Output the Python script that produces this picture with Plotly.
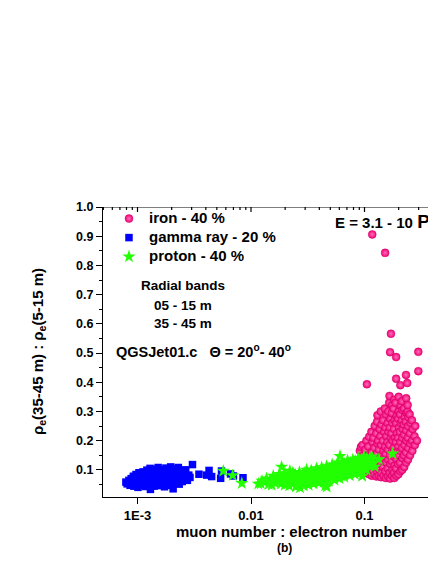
import plotly.graph_objects as go

FONT = "Liberation Sans, Arial, sans-serif"

# ---------------- data ----------------
series_names = ["iron - 40 %", "gamma ray - 20 %", "proton - 40 %"]

iron_x = [
    0.092, 0.094, 0.091, 0.093,
    0.098, 0.097, 0.099, 0.096,
    0.104, 0.103, 0.105, 0.102, 0.104,
    0.110, 0.109, 0.111, 0.108, 0.110,
    0.116, 0.117, 0.115, 0.116, 0.118, 0.115,
    0.122, 0.121, 0.123, 0.122, 0.120, 0.123,
    0.128, 0.129, 0.127, 0.128, 0.130, 0.127, 0.129,
    0.134, 0.133, 0.135, 0.134, 0.132, 0.136, 0.130,
    0.140, 0.141, 0.139, 0.142, 0.140, 0.138, 0.141, 0.139,
    0.147, 0.146, 0.148, 0.147, 0.145, 0.149, 0.146,
    0.154, 0.153, 0.155, 0.154, 0.152, 0.156, 0.153, 0.155, 0.151,
    0.161, 0.160, 0.162, 0.161, 0.159, 0.163, 0.160, 0.162,
    0.168, 0.167, 0.169, 0.168, 0.166, 0.170, 0.167, 0.169, 0.165, 0.166,
    0.175, 0.176, 0.174, 0.175, 0.177, 0.173, 0.176, 0.174, 0.175,
    0.183, 0.182, 0.184, 0.183, 0.181, 0.185, 0.182, 0.184, 0.180, 0.183,
    0.191, 0.190, 0.192, 0.191, 0.189, 0.193, 0.190, 0.192, 0.188,
    0.199, 0.198, 0.200, 0.199, 0.197, 0.201, 0.198, 0.200, 0.200,
    0.207, 0.206, 0.208, 0.207, 0.205, 0.209, 0.206, 0.208,
    0.215, 0.216, 0.214, 0.215, 0.217, 0.213, 0.216, 0.214,
    0.224, 0.223, 0.225, 0.224, 0.222, 0.226, 0.223,
    0.233, 0.232, 0.234, 0.233, 0.231, 0.235, 0.233,
    0.242, 0.243, 0.241, 0.242, 0.244, 0.240, 0.240,
    0.252, 0.253, 0.251, 0.254, 0.250,
    0.264, 0.263, 0.266, 0.262,
    0.278, 0.276, 0.280,
    0.290,
    0.117, 0.152, 0.171, 0.168, 0.190, 0.298, 0.298, 0.232, 0.190, 0.207, 0.238, 0.105,
]
iron_y = [
    0.110, 0.135, 0.165, 0.178,
    0.096, 0.120, 0.150, 0.185,
    0.090, 0.105, 0.140, 0.170, 0.200,
    0.085, 0.115, 0.145, 0.180, 0.213,
    0.080, 0.100, 0.130, 0.160, 0.195, 0.230,
    0.085, 0.110, 0.140, 0.175, 0.210, 0.250,
    0.077, 0.096, 0.125, 0.155, 0.190, 0.225, 0.265,
    0.080, 0.105, 0.135, 0.170, 0.200, 0.240, 0.287,
    0.075, 0.090, 0.120, 0.150, 0.185, 0.215, 0.255, 0.300,
    0.080, 0.110, 0.140, 0.165, 0.200, 0.230, 0.270,
    0.072, 0.095, 0.125, 0.155, 0.180, 0.215, 0.245, 0.290, 0.310,
    0.078, 0.105, 0.135, 0.170, 0.195, 0.230, 0.260, 0.300,
    0.070, 0.090, 0.120, 0.150, 0.185, 0.210, 0.245, 0.275, 0.330, 0.353,
    0.080, 0.100, 0.130, 0.165, 0.200, 0.225, 0.260, 0.295, 0.321,
    0.072, 0.090, 0.115, 0.145, 0.175, 0.210, 0.240, 0.270, 0.310, 0.340,
    0.080, 0.105, 0.135, 0.160, 0.195, 0.225, 0.260, 0.285, 0.330,
    0.085, 0.120, 0.150, 0.180, 0.210, 0.245, 0.275, 0.300, 0.350,
    0.095, 0.125, 0.165, 0.195, 0.230, 0.260, 0.290, 0.320,
    0.100, 0.140, 0.175, 0.210, 0.240, 0.270, 0.305, 0.335,
    0.110, 0.150, 0.185, 0.220, 0.255, 0.280, 0.310,
    0.125, 0.160, 0.200, 0.235, 0.265, 0.295, 0.345,
    0.135, 0.175, 0.210, 0.250, 0.280, 0.300, 0.322,
    0.150, 0.190, 0.225, 0.260, 0.290,
    0.165, 0.200, 0.240, 0.270,
    0.185, 0.215, 0.250,
    0.200,
    0.906, 0.843, 0.566, 0.503, 0.486, 0.504, 0.438, 0.425, 0.412, 0.390, 0.397, 0.393,
]

gamma_x = [
    0.00079, 0.00081, 0.00084, 0.00086, 0.00088, 0.00090, 0.00092, 0.00093, 0.00095, 0.00097,
    0.00099, 0.00100, 0.00101, 0.00103, 0.00105, 0.00107, 0.00108, 0.00110, 0.00112, 0.00114,
    0.00116, 0.00118, 0.00119, 0.00121, 0.00123, 0.00125, 0.00127, 0.00129, 0.00130, 0.00132,
    0.00134, 0.00136, 0.00138, 0.00140, 0.00142, 0.00144, 0.00146, 0.00148, 0.00150, 0.00152,
    0.00155, 0.00157, 0.00160, 0.00162, 0.00165, 0.00168, 0.00170, 0.00173, 0.00176, 0.00178,
    0.00181, 0.00184, 0.00187, 0.00190, 0.00193, 0.00196, 0.00199, 0.00202, 0.00206, 0.00209,
    0.00213, 0.00217, 0.00221, 0.00225, 0.00229, 0.00233, 0.00238, 0.00243, 0.00248, 0.00254,
    0.00260, 0.00266, 0.00275, 0.00283, 0.00290,
    0.00105, 0.00115, 0.00135, 0.00145, 0.00155, 0.00165, 0.00175, 0.00185, 0.00195, 0.00205,
    0.00215, 0.00225, 0.00235, 0.00245, 0.00088, 0.00125, 0.00150, 0.00170, 0.00190, 0.00210,
    0.00305, 0.00348, 0.00407, 0.00427, 0.00450, 0.00540, 0.00550, 0.00660, 0.00700, 0.00850,
]
gamma_y = [
    0.058, 0.052, 0.064, 0.047, 0.070, 0.056, 0.078, 0.044, 0.062, 0.084,
    0.051, 0.072, 0.040, 0.090, 0.061, 0.079, 0.047, 0.068, 0.093, 0.055,
    0.084, 0.043, 0.074, 0.099, 0.062, 0.088, 0.050, 0.105, 0.033, 0.070,
    0.095, 0.057, 0.081, 0.044, 0.102, 0.066, 0.088, 0.052, 0.076, 0.108,
    0.060, 0.092, 0.046, 0.072, 0.100, 0.056, 0.084, 0.042, 0.068, 0.106,
    0.090, 0.052, 0.075, 0.098, 0.062, 0.110, 0.047, 0.083, 0.035, 0.070,
    0.104, 0.056, 0.091, 0.066, 0.108, 0.051, 0.080, 0.097, 0.060, 0.086,
    0.072, 0.100, 0.064, 0.082, 0.074,
    0.075, 0.065, 0.075, 0.060, 0.085, 0.065, 0.095, 0.065, 0.078, 0.095,
    0.075, 0.085, 0.095, 0.072, 0.062, 0.072, 0.095, 0.070, 0.088, 0.062,
    0.118, 0.085, 0.082, 0.098, 0.077, 0.071, 0.096, 0.086, 0.079, 0.073,
]

proton_x = [
    0.0057, 0.0069, 0.0083, 0.0116, 0.0122, 0.0125, 0.0133, 0.0137, 0.0143, 0.0147,
    0.0152, 0.0157, 0.0163, 0.0167, 0.0172, 0.0176, 0.0179, 0.0186, 0.0184, 0.0189,
    0.0193, 0.0198, 0.0202, 0.0199, 0.0208, 0.0212, 0.0220, 0.0217, 0.0224, 0.0232,
    0.0237, 0.0234, 0.0248, 0.0253, 0.0246, 0.0262, 0.0267, 0.0264, 0.0270, 0.0277,
    0.0283, 0.0292, 0.0297, 0.0294, 0.0307, 0.0313, 0.0309, 0.0322, 0.0328, 0.0324,
    0.0336, 0.0343, 0.0339, 0.0356, 0.0362, 0.0358, 0.0376, 0.0383, 0.0379, 0.0396,
    0.0403, 0.0399, 0.0416, 0.0423, 0.0419, 0.0436, 0.0443, 0.0439, 0.0450, 0.0465,
    0.0460, 0.0468, 0.0463, 0.0485, 0.0493, 0.0489, 0.0515, 0.0524, 0.0519, 0.0545,
    0.0554, 0.0549, 0.0575, 0.0584, 0.0579, 0.0608, 0.0603, 0.0611, 0.0634, 0.0645,
    0.0639, 0.0664, 0.0675, 0.0669, 0.0704, 0.0716, 0.0709, 0.0744, 0.0756, 0.0749,
    0.0784, 0.0796, 0.0789, 0.0824, 0.0836, 0.0829, 0.0873, 0.0887, 0.0879, 0.0928,
    0.0942, 0.0935, 0.0955, 0.0983, 0.0997, 0.0990, 0.1042, 0.1058, 0.1050, 0.1093,
    0.1107, 0.1143, 0.1157, 0.1230, 0.1340, 0.1770,
    0.0210, 0.0240, 0.0270, 0.0300, 0.0330, 0.0350, 0.0370, 0.0390, 0.0410, 0.0430,
    0.0470, 0.0500, 0.0530, 0.0560, 0.0590, 0.0620, 0.0650, 0.0690, 0.0730, 0.0770,
    0.0810, 0.0860, 0.0900, 0.0960, 0.1020, 0.1080, 0.1120, 0.1180, 0.0320, 0.0380,
]
proton_y = [
    0.096, 0.081, 0.054, 0.052, 0.053, 0.062, 0.058, 0.070, 0.050, 0.065,
    0.048, 0.079, 0.055, 0.068, 0.060, 0.075, 0.085, 0.110, 0.052, 0.065,
    0.080, 0.048, 0.070, 0.088, 0.058, 0.078, 0.096, 0.045, 0.066, 0.052,
    0.075, 0.090, 0.042, 0.060, 0.082, 0.070, 0.092, 0.050, 0.039, 0.058,
    0.080, 0.045, 0.068, 0.090, 0.055, 0.078, 0.100, 0.048, 0.065, 0.088,
    0.060, 0.080, 0.098, 0.052, 0.072, 0.090, 0.065, 0.085, 0.105, 0.055,
    0.075, 0.095, 0.068, 0.088, 0.108, 0.058, 0.080, 0.100, 0.045, 0.042,
    0.070, 0.092, 0.112, 0.062, 0.085, 0.105, 0.075, 0.095, 0.118, 0.065,
    0.088, 0.110, 0.080, 0.100, 0.125, 0.147, 0.070, 0.092, 0.085, 0.108,
    0.128, 0.075, 0.098, 0.120, 0.090, 0.112, 0.132, 0.080, 0.102, 0.125,
    0.095, 0.118, 0.135, 0.085, 0.108, 0.130, 0.100, 0.122, 0.140, 0.090,
    0.115, 0.135, 0.079, 0.105, 0.128, 0.145, 0.100, 0.120, 0.140, 0.115,
    0.135, 0.125, 0.145, 0.110, 0.136, 0.155,
    0.068, 0.072, 0.075, 0.070, 0.082, 0.062, 0.095, 0.078, 0.085, 0.098,
    0.080, 0.095, 0.088, 0.100, 0.112, 0.080, 0.118, 0.105, 0.122, 0.110,
    0.125, 0.118, 0.130, 0.125, 0.132, 0.128, 0.140, 0.138, 0.058, 0.075,
]

x_tick_vals = [0.001, 0.01, 0.1]
x_tick_text = ["1E-3", "0.01", "0.1"]
y_tick_vals = [0.1, 0.2, 0.3, 0.4, 0.5, 0.6, 0.7, 0.8, 0.9, 1.0]
y_tick_text = ["0.1", "0.2", "0.3", "0.4", "0.5", "0.6", "0.7", "0.8", "0.9", "1.0"]

X_RANGE = [-3.304, -0.370]   # log10 range
Y_RANGE = [0.007, 1.0]

# page body has an 8px margin: the figure is sized/placed to compensate
OFF = 8
PLOT_H = 290.0
Y_PER_PX = (Y_RANGE[1] - Y_RANGE[0]) / PLOT_H

# ---------------- figure ----------------
fig = go.Figure()

fig.add_trace(go.Scatter(
    x=iron_x, y=iron_y, mode="markers",
    name="<span style='font-size:15px'>%s</span>" % series_names[0],
    marker=dict(symbol="circle", size=8, color="#f20078",
                gradient=dict(type="radial", color="#ff70b4"),
                line=dict(width=0.4, color="#c8005f")),
))
fig.add_trace(go.Scatter(
    x=gamma_x, y=gamma_y, mode="markers",
    name="<span style='font-size:15px'>%s</span>" % series_names[1],
    marker=dict(symbol="square", size=7.5, color="#0000ff", line=dict(width=0)),
))
fig.add_trace(go.Scatter(
    x=proton_x, y=proton_y, mode="markers",
    name="<span style='font-size:15px'>%s</span>" % series_names[2],
    marker=dict(symbol="star", size=10, color="#22ff00", line=dict(width=0)),
))

# frame decoration: top border with inward ticks, bottom minor ticks,
# all derived from the axis range and tick values
lo, hi = 10 ** X_RANGE[0], 10 ** X_RANGE[1]
top, bot = Y_RANGE[1], Y_RANGE[0]
fx = [lo, hi, None]
fy = [top, top, None]
for v in x_tick_vals:
    fx += [v, v, None]
    fy += [top, top - 5 * Y_PER_PX, None]
for dec in [0.0001] + x_tick_vals:
    for m in range(2, 10):
        v = dec * m
        if lo < v < hi:
            fx += [v, v, None, v, v, None]
            fy += [top, top - 3 * Y_PER_PX, None, bot, bot - 3.5 * Y_PER_PX, None]
fig.add_trace(go.Scatter(
    x=fx, y=fy, mode="lines", showlegend=False, hoverinfo="skip",
    line=dict(color="black", width=1.2), cliponaxis=False, connectgaps=False,
))

def bold(size):
    return dict(family=FONT, size=size, color="black", weight="bold")

fig.update_layout(
    width=436 - OFF, height=564 - OFF,
    margin=dict(l=103 - OFF, r=0, t=207 - OFF, b=(564 - OFF) - (497 - OFF), autoexpand=False),
    paper_bgcolor="white", plot_bgcolor="white",
    showlegend=True,
    legend=dict(x=0.018, y=1.010, xanchor="left", yanchor="top",
                bgcolor="rgba(0,0,0,0)", borderwidth=0,
                font=bold(12), itemwidth=30, tracegroupgap=0),
    xaxis=dict(type="log", range=X_RANGE, showgrid=False, zeroline=False,
               showline=True, linecolor="black", linewidth=1.3,
               ticks="outside", ticklen=6, tickwidth=1.2, tickcolor="black",
               tickmode="array", tickvals=x_tick_vals, ticktext=x_tick_text,
               tickfont=bold(13)),
    yaxis=dict(range=Y_RANGE, showgrid=False, zeroline=False,
               showline=True, linecolor="black", linewidth=1.3,
               ticks="outside", ticklen=6, tickwidth=1.2, tickcolor="black",
               tickmode="array", tickvals=y_tick_vals, ticktext=y_tick_text,
               tickfont=bold(12.5),
               minor=dict(ticks="outside", ticklen=3, tickwidth=1, tickcolor="black",
                          dtick=0.05, tick0=0, showgrid=False)),
)

# helpers: window pixel -> paper fraction (plot area spans x 103..436, y 207..497)
def px_x(p):
    return (p - 103) / 333.0

def px_y(p):
    return (497 - p) / PLOT_H

NB = "\u00a0"
annots = [
    dict(text="ρ<sub>e</sub>(35-45 m) : ρ<sub>e</sub>(5-15 m)", x=px_x(38), y=px_y(352),
         textangle=-90, font=bold(15), xanchor="center", yanchor="middle"),
    dict(text="muon number : electron number", x=px_x(291), y=px_y(531),
         font=bold(15), xanchor="center", yanchor="middle"),
    dict(text="(b)", x=px_x(284), y=px_y(548),
         font=bold(12), xanchor="center", yanchor="middle"),
    dict(text="Radial bands", x=px_x(183), y=px_y(285),
         font=bold(13.5), xanchor="center", yanchor="middle"),
    dict(text="05 - 15 m", x=px_x(183), y=px_y(305),
         font=bold(13.5), xanchor="center", yanchor="middle"),
    dict(text="35 - 45 m", x=px_x(183), y=px_y(323),
         font=bold(13.5), xanchor="center", yanchor="middle"),
    dict(text="QGSJet01.c" + NB * 3 + "Θ = 20<sup>o</sup>- 40<sup>o</sup>",
         x=px_x(114), y=px_y(351),
         font=bold(14.5), xanchor="left", yanchor="middle"),
    dict(text="E = 3.1 - 10 <span style='font-size:19px'>Pe</span>",
         x=px_x(333), y=px_y(221),
         font=bold(15), xanchor="left", yanchor="middle"),
]
for a in annots:
    a.update(xref="paper", yref="paper", showarrow=False)
    fig.add_annotation(**a)

fig.write_html("out.html")
